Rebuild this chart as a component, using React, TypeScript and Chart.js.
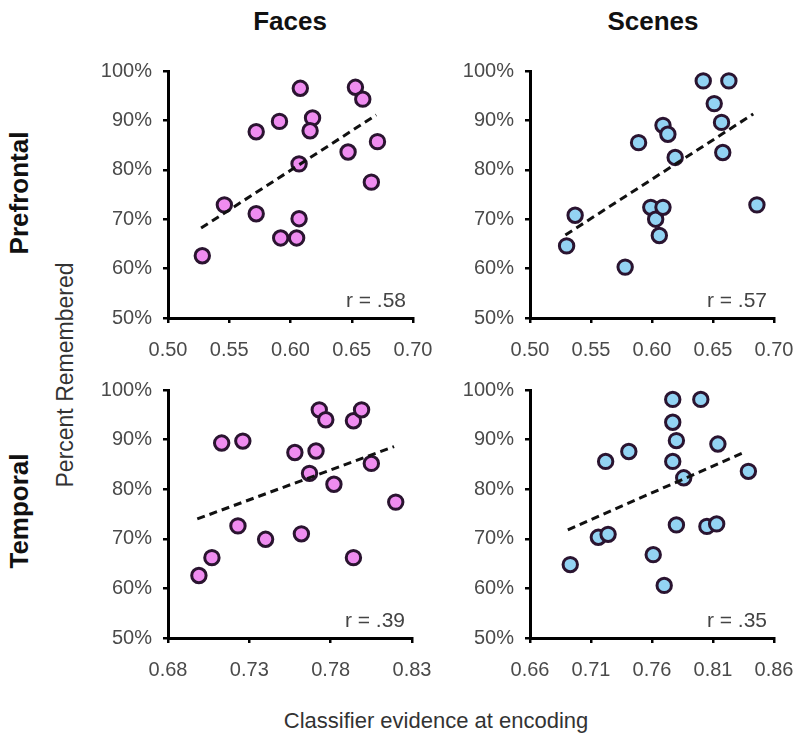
import React, { useEffect, useRef } from "react";
import { Chart, registerables } from "chart.js";
Chart.register(...registerables);

// ---- data ----
const yTicks = [50, 60, 70, 80, 90, 100];
const pfcXTicks = [0.5, 0.55, 0.6, 0.65, 0.7];
const facesTempXTicks = [0.68, 0.73, 0.78, 0.83];
const scenesTempXTicks = [0.66, 0.71, 0.76, 0.81, 0.86];

const facesPfcX = [0.528, 0.546, 0.572, 0.572, 0.591, 0.592, 0.605, 0.607, 0.607, 0.608, 0.618, 0.616, 0.647, 0.653, 0.659, 0.666, 0.671];
const facesPfcY = [62.6, 72.9, 87.7, 71.1, 89.8, 66.2, 66.2, 70.1, 81.2, 96.5, 90.5, 87.9, 83.6, 96.7, 94.3, 77.5, 85.7];
const facesPfcFitX = [0.527, 0.67];
const facesPfcFitY = [68.2, 91.1];

const scenesPfcX = [0.53, 0.537, 0.578, 0.589, 0.599, 0.603, 0.609, 0.606, 0.609, 0.613, 0.619, 0.642, 0.651, 0.657, 0.658, 0.663, 0.686];
const scenesPfcY = [64.6, 70.8, 60.3, 85.5, 72.4, 70.0, 72.4, 66.7, 89.0, 87.2, 82.5, 98.0, 93.4, 89.6, 83.5, 98.0, 72.9];
const scenesPfcFitX = [0.529, 0.683];
const scenesPfcFitY = [66.8, 91.3];

const facesTempX = [0.699, 0.707, 0.713, 0.726, 0.723, 0.74, 0.758, 0.762, 0.767, 0.771, 0.773, 0.777, 0.782, 0.794, 0.799, 0.794, 0.805, 0.82];
const facesTempY = [62.6, 66.2, 89.3, 89.7, 72.6, 69.9, 87.4, 71.0, 83.2, 87.7, 96.0, 94.0, 81.0, 93.8, 96.0, 66.2, 85.2, 77.4];
const facesTempFitX = [0.698, 0.819];
const facesTempFitY = [74.0, 88.6];

const scenesTempX = [0.693, 0.716, 0.724, 0.722, 0.741, 0.761, 0.77, 0.777, 0.777, 0.777, 0.78, 0.78, 0.786, 0.8, 0.805, 0.813, 0.814, 0.839];
const scenesTempY = [64.8, 70.3, 70.9, 85.6, 87.6, 66.8, 60.6, 98.1, 93.5, 85.6, 89.8, 72.8, 82.3, 98.1, 72.5, 73.0, 89.1, 83.6];
const scenesTempFitX = [0.691, 0.837];
const scenesTempFitY = [71.8, 87.6];

const rLabels = ["r = .58", "r = .57", "r = .39", "r = .35"];

// ---- style ----
const PINK = "#ef8cf0";
const BLUE = "#93d3f3";
const EDGE = "#2a1430";
const TICK_COLOR = "#4a4a4a";
const FONT = "'Liberation Sans', Arial, sans-serif";

const Y_W = 90;
const X_H = 50;
const PAD_T = 35;
const PAD_R = 50;

type PanelProps = {
  xs: number[];
  ys: number[];
  fitX: number[];
  fitY: number[];
  xTicks: number[];
  color: string;
  area: { left: number; top: number; right: number; bottom: number };
  r: string;
};

function Panel({ xs, ys, fitX, fitY, xTicks, color, area, r }: PanelProps) {
  const ref = useRef<HTMLCanvasElement>(null);
  const w = Y_W + (area.right - area.left) + PAD_R;
  const h = PAD_T + (area.bottom - area.top) + X_H;
  useEffect(() => {
    if (!ref.current) return;
    const chart = new Chart(ref.current, {
      type: "scatter",
      data: {
        datasets: [
          {
            type: "line",
            data: fitX.map((x, i) => ({ x, y: fitY[i] })),
            borderColor: "#111",
            borderWidth: 3,
            borderDash: [8, 5],
            pointRadius: 0,
            fill: false,
            showLine: true,
          } as any,
          {
            data: xs.map((x, i) => ({ x, y: ys[i] })),
            backgroundColor: color,
            borderColor: EDGE,
            borderWidth: 3,
            pointRadius: 7.2,
            clip: false,
          } as any,
        ],
      },
      options: {
        animation: false,
        responsive: false,
        maintainAspectRatio: false,
        layout: { padding: { top: PAD_T, right: PAD_R, left: 0, bottom: 0 } },
        plugins: { legend: { display: false }, tooltip: { enabled: false } },
        scales: {
          x: {
            type: "linear",
            min: xTicks[0],
            max: xTicks[xTicks.length - 1],
            afterBuildTicks: (s: any) => {
              s.ticks = xTicks.map((v) => ({ value: v }));
            },
            afterFit: (s: any) => {
              s.height = X_H;
            },
            grid: { display: true, drawOnChartArea: false, drawTicks: true, tickLength: 5, color: "#000", lineWidth: 2.5 },
            border: { display: true, color: "#000", width: 3 },
            ticks: {
              color: TICK_COLOR,
              font: { family: FONT, size: 20 },
              padding: 15,
              maxRotation: 0,
              autoSkip: false,
              callback: (v: any) => Number(v).toFixed(2),
            },
          },
          y: {
            type: "linear",
            min: 50,
            max: 100,
            afterBuildTicks: (s: any) => {
              s.ticks = yTicks.map((v) => ({ value: v }));
            },
            afterFit: (s: any) => {
              s.width = Y_W;
            },
            grid: { display: true, drawOnChartArea: false, drawTicks: true, tickLength: 5, color: "#000", lineWidth: 2.5 },
            border: { display: true, color: "#000", width: 3 },
            ticks: {
              color: TICK_COLOR,
              font: { family: FONT, size: 20 },
              padding: 11,
              autoSkip: false,
              callback: (v: any) => v + "%",
            },
          },
        },
      },
    });
    return () => chart.destroy();
  }, []);
  return (
    <>
      <canvas
        ref={ref}
        width={w}
        height={h}
        style={{ position: "absolute", left: area.left - Y_W, top: area.top - PAD_T, width: w, height: h }}
      />
      <div
        style={{
          position: "absolute",
          right: 800 - (area.right - 7),
          top: area.bottom - 31,
          font: `21px ${FONT}`,
          color: "#444",
          whiteSpace: "nowrap",
          lineHeight: "26px",
        }}
      >
        {r}
      </div>
    </>
  );
}

function Label({ text, x, y, size, bold, rotate, color }: any) {
  return (
    <div
      style={{
        position: "absolute",
        left: x,
        top: y,
        transform: `translate(-50%, -50%)${rotate ? " rotate(-90deg)" : ""}`,
        font: `${bold ? "bold " : ""}${size}px ${FONT}`,
        color,
        whiteSpace: "nowrap",
        lineHeight: 1,
      }}
    >
      {text}
    </div>
  );
}

export default function App() {
  return (
    <div style={{ position: "absolute", left: 0, top: 0, width: 800, height: 741, background: "#fff", overflow: "hidden" }}>
      <Label text="Faces" x={290} y={21} size={26} bold color="#111" />
      <Label text="Scenes" x={653} y={21} size={26} bold color="#111" />
      <Label text="Prefrontal" x={19} y={193} size={26} bold rotate color="#111" />
      <Label text="Temporal" x={19} y={511} size={26} bold rotate color="#111" />
      <Label text="Percent Remembered" x={65} y={375} size={23} rotate color="#333" />
      <Label text="Classifier evidence at encoding" x={436} y={721} size={22} color="#333" />
      <Panel xs={facesPfcX} ys={facesPfcY} fitX={facesPfcFitX} fitY={facesPfcFitY} xTicks={pfcXTicks} color={PINK}
        area={{ left: 168, top: 71, right: 413, bottom: 318 }} r={rLabels[0]} />
      <Panel xs={scenesPfcX} ys={scenesPfcY} fitX={scenesPfcFitX} fitY={scenesPfcFitY} xTicks={pfcXTicks} color={BLUE}
        area={{ left: 530, top: 71, right: 774, bottom: 318 }} r={rLabels[1]} />
      <Panel xs={facesTempX} ys={facesTempY} fitX={facesTempFitX} fitY={facesTempFitY} xTicks={facesTempXTicks} color={PINK}
        area={{ left: 168, top: 390, right: 412, bottom: 638 }} r={rLabels[2]} />
      <Panel xs={scenesTempX} ys={scenesTempY} fitX={scenesTempFitX} fitY={scenesTempFitY} xTicks={scenesTempXTicks} color={BLUE}
        area={{ left: 530, top: 390, right: 774, bottom: 638 }} r={rLabels[3]} />
    </div>
  );
}
